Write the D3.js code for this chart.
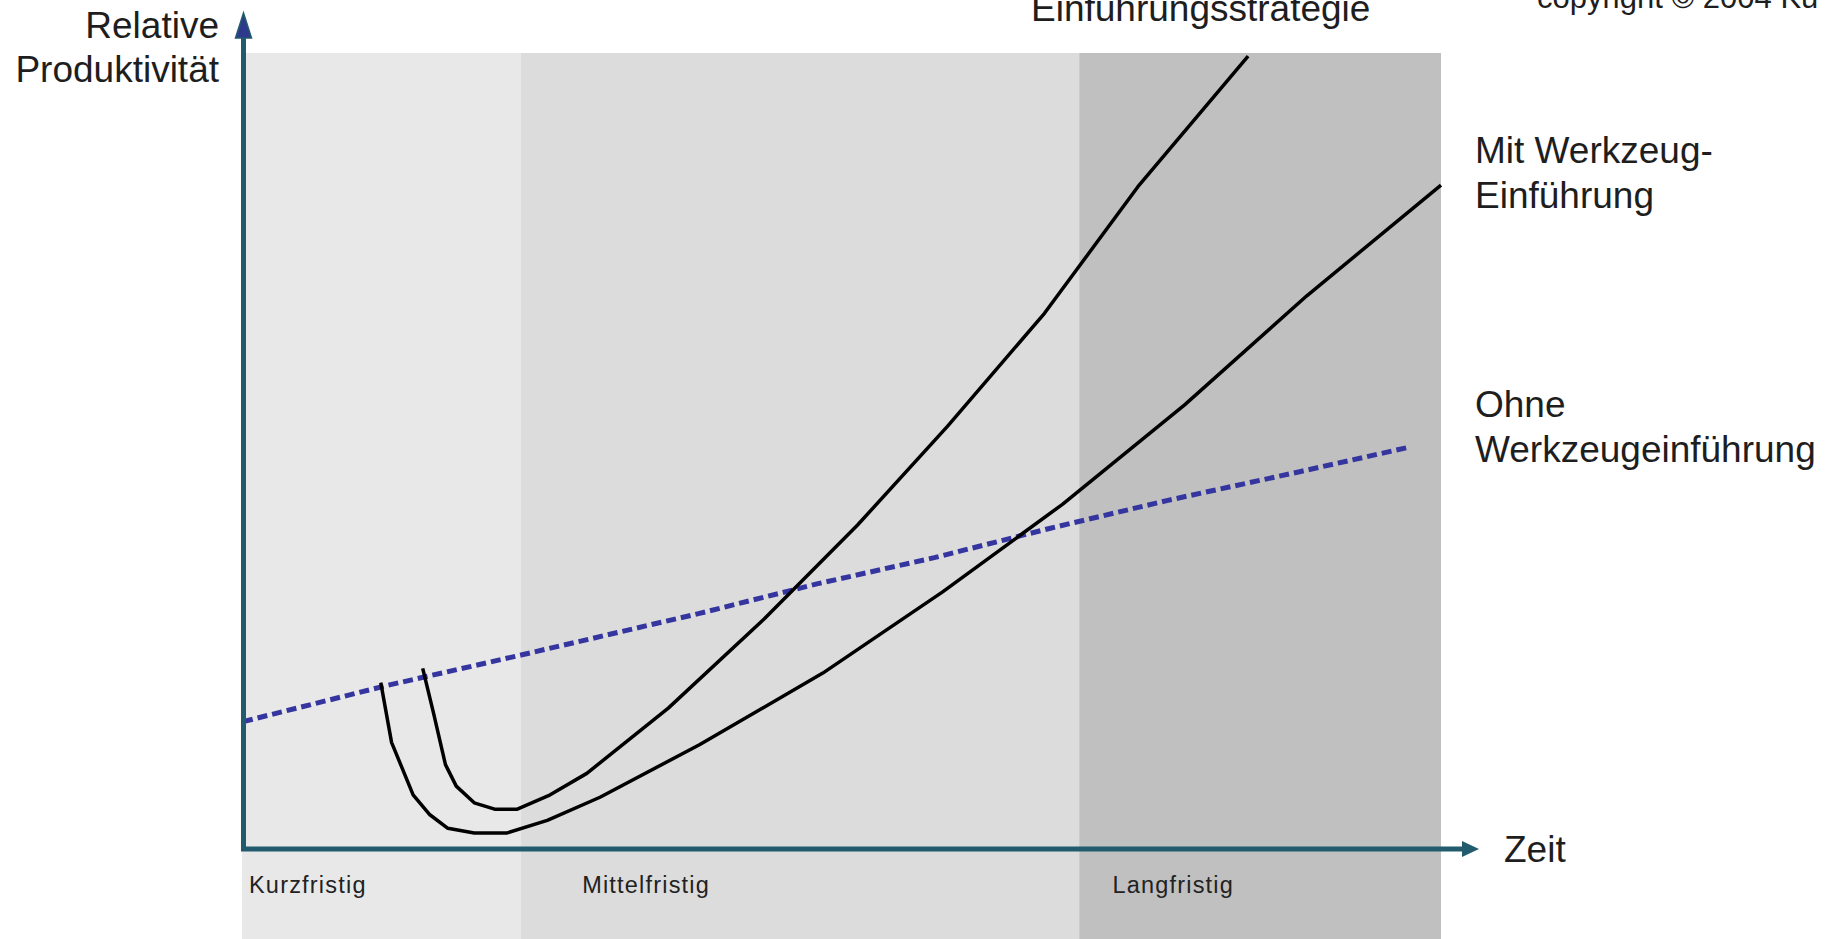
<!DOCTYPE html>
<html>
<head>
<meta charset="utf-8">
<script src="https://cdn.jsdelivr.net/npm/d3@7"></script>
<style>
  html, body { margin: 0; padding: 0; background: #fff; overflow: hidden; }
  svg { display: block; font-family: "Liberation Sans", Arial, sans-serif; }
</style>
</head>
<body>
<div id="chart"></div>
<script>
// phases along the time axis (x in % of the axis length)
const phases = ["Kurzfristig", "Mittelfristig", "Langfristig"];
const phaseBounds = [0, 23.3, 69.9, 100];
const phaseColors = ["#e8e8e8", "#dcdcdc", "#c0c0c0"];

// Ohne Werkzeugeinführung (dashed)
const ohneX = [0, 11.9, 23.3, 38.1, 47.9, 57.7, 67.4, 77.2, 88.2, 97.4];
const ohneY = [16.0, 20.5, 24.4, 29.6, 33.3, 36.6, 40.3, 43.8, 47.4, 50.5];

// Mit Werkzeug-Einführung
const mitX = [11.5, 12.4, 14.2, 15.6, 17.1, 19.3, 22.0, 25.4, 29.8, 38.1, 48.4, 58.4, 68.4, 78.6, 88.8, 100];
const mitY = [20.9, 13.4, 6.8, 4.3, 2.6, 2.0, 2.0, 3.6, 6.5, 13.1, 22.1, 32.3, 43.3, 55.8, 69.5, 83.4];

// mit optimaler Einführungsstrategie
const optX = [15.0, 15.9, 16.9, 17.8, 19.3, 21.0, 22.9, 25.5, 28.7, 35.5, 43.5, 51.3, 58.8, 66.9, 74.7, 83.9];
const optY = [22.7, 17.1, 10.6, 7.9, 5.8, 5.0, 5.0, 6.7, 9.5, 17.7, 28.9, 40.7, 53.1, 67.3, 83.2, 99.6];

const width = 1830;
const height = 939;
const x0 = 243, x1 = 1441, yBase = 849, yTop = 53;
const labelPad = [6, 60, 32];

const x = d3.scaleLinear().domain([0, 100]).range([x0, x1]);
const y = d3.scaleLinear().domain([0, 100]).range([yBase, yTop]);

const svg = d3.select("#chart").append("svg")
  .attr("width", width)
  .attr("height", height);

// background bands
svg.append("g")
  .selectAll("rect")
  .data(phases)
  .join("rect")
  .attr("x", (d, i) => x(phaseBounds[i]) - 1)
  .attr("y", y(100))
  .attr("width", (d, i) => x(phaseBounds[i + 1]) - x(phaseBounds[i]) + 1)
  .attr("height", height - y(100))
  .attr("fill", (d, i) => phaseColors[i]);

svg.append("g")
  .attr("font-size", 23.5)
  .attr("letter-spacing", 1.2)
  .attr("fill", "#222")
  .selectAll("text")
  .data(phases)
  .join("text")
  .attr("x", (d, i) => x(phaseBounds[i]) + labelPad[i])
  .attr("y", yBase + 44)
  .text(d => d);

const line = d3.line()
  .x(d => x(d[0]))
  .y(d => y(d[1]))
  .curve(d3.curveLinear);

// Ohne Werkzeugeinführung
svg.append("path")
  .datum(d3.zip(ohneX, ohneY))
  .attr("fill", "none")
  .attr("stroke", "#3535a0")
  .attr("stroke-width", 5)
  .attr("stroke-dasharray", "10,5")
  .attr("d", line);

const curves = svg.append("g")
  .attr("fill", "none")
  .attr("stroke", "#000")
  .attr("stroke-width", 3.5)
  .attr("stroke-linejoin", "round");

curves.append("path").datum(d3.zip(mitX, mitY)).attr("d", line);
curves.append("path").datum(d3.zip(optX, optY)).attr("d", line);

// axes
const axisColor = "#225b6d";
svg.append("line")
  .attr("x1", x0 + 0.5).attr("y1", yBase + 2)
  .attr("x2", x0 + 0.5).attr("y2", 34)
  .attr("stroke", axisColor).attr("stroke-width", 5);
svg.append("path")
  .attr("d", `M${x0 + 0.5},13 L${x0 + 8.5},38 L${x0 - 7.5},38 Z`)
  .attr("fill", "#2d3a8c")
  .attr("stroke", axisColor)
  .attr("stroke-width", 1.5);

svg.append("line")
  .attr("x1", x0 - 2).attr("y1", yBase)
  .attr("x2", 1465).attr("y2", yBase)
  .attr("stroke", axisColor).attr("stroke-width", 5);
svg.append("path")
  .attr("d", `M1479,${yBase} L1462,${yBase - 8} L1462,${yBase + 8} Z`)
  .attr("fill", axisColor);

// texts
const txt = svg.append("g")
  .attr("font-size", 37)
  .attr("fill", "#1e1e1e");

txt.append("text").attr("x", 219).attr("y", 38).attr("text-anchor", "end").text("Relative");
txt.append("text").attr("x", 219).attr("y", 82).attr("text-anchor", "end").text("Produktivität");
txt.append("text").attr("x", 1504).attr("y", 862).text("Zeit");

txt.append("text").attr("x", 1031).attr("y", 21).text("Einführungsstrategie");
txt.append("text").attr("x", 1475).attr("y", 163).text("Mit Werkzeug-");
txt.append("text").attr("x", 1475).attr("y", 208).text("Einführung");
txt.append("text").attr("x", 1475).attr("y", 417).text("Ohne");
txt.append("text").attr("x", 1475).attr("y", 462).text("Werkzeugeinführung");

svg.append("text")
  .attr("x", 1537).attr("y", 8)
  .attr("font-size", 31)
  .attr("fill", "#1e1e1e")
  .text("copyright © 2004 Ku");
</script>
</body>
</html>
